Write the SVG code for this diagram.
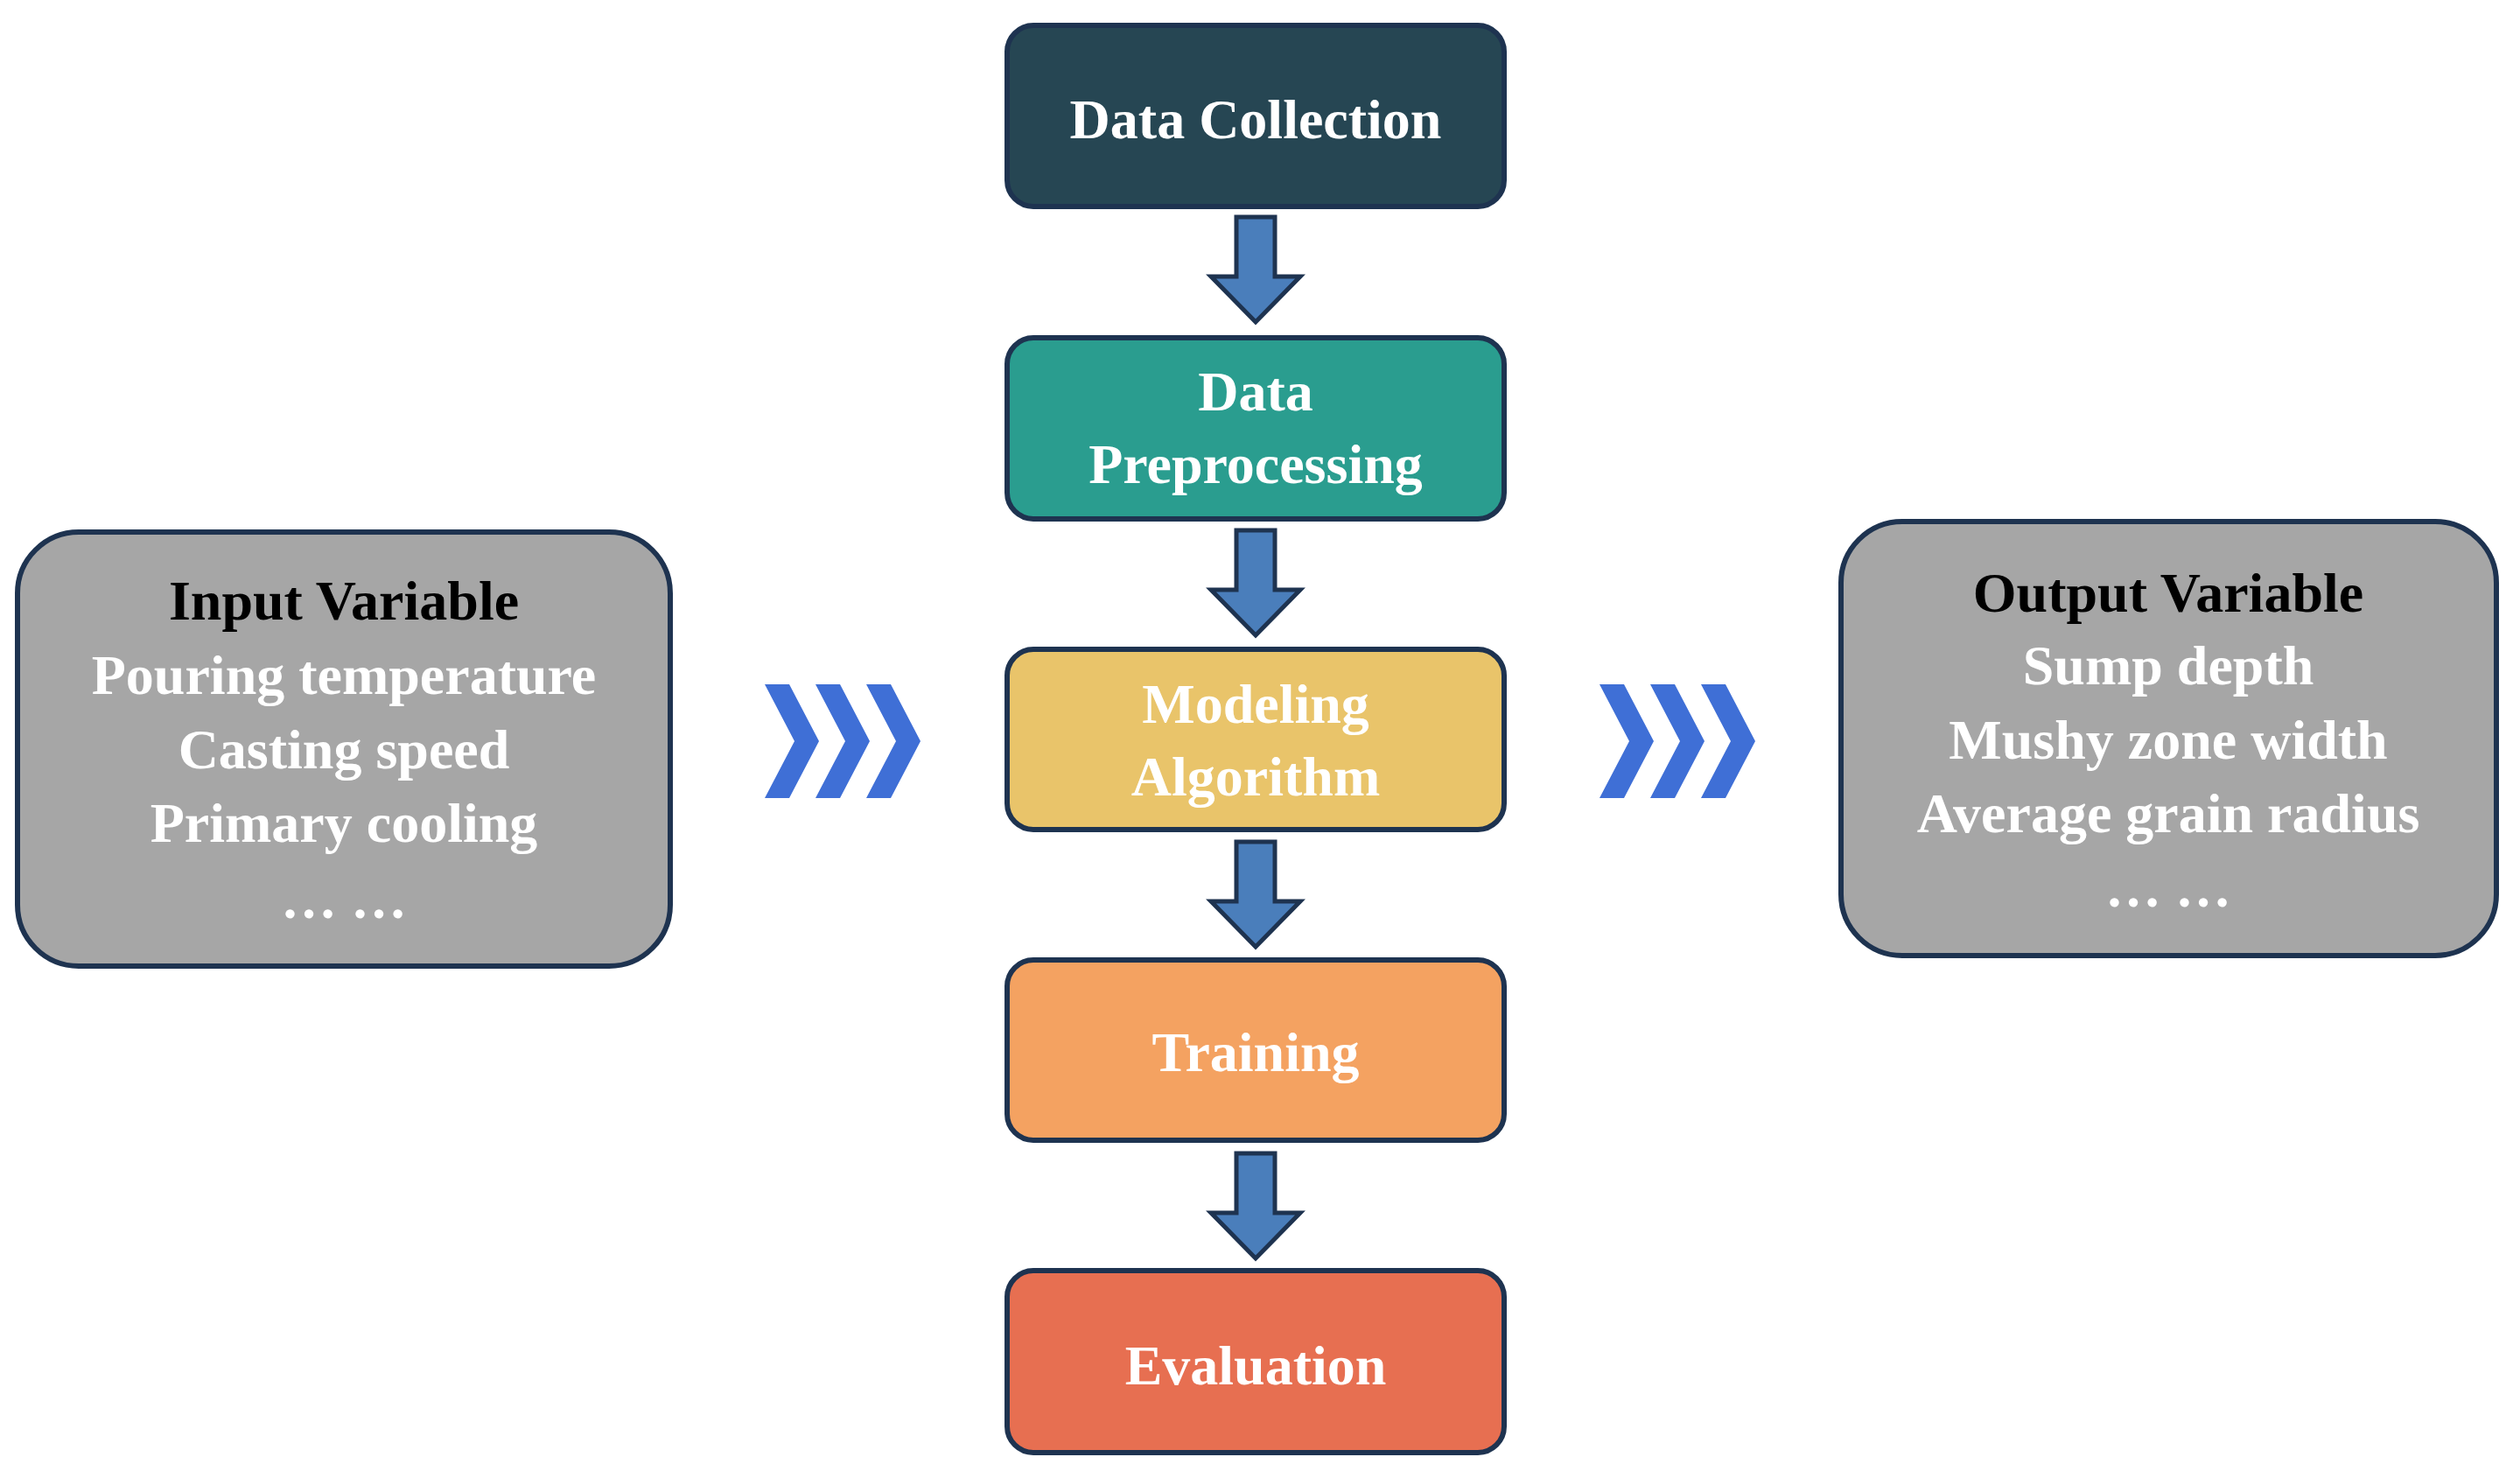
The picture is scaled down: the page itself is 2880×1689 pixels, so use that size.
<svg xmlns="http://www.w3.org/2000/svg" width="2880" height="1689" viewBox="0 0 2880 1689">
<style>
.box{stroke:#1e3350;stroke-width:6}
.t{font-family:"Liberation Serif","Times New Roman",serif;font-weight:bold;font-size:64px;fill:#fff;text-anchor:middle}
.h{fill:#000}
.arr{fill:#4a7ebb;stroke:#1e3350;stroke-width:5}
.chev{fill:#3f6fd6}
</style>
<defs>
<path id="dn" class="arr" d="M-22,0 H22 V68 H51 L0,120 L-51,68 H-22 Z"/>
<path id="ch" class="chev" d="M0,0 H28 L62,65 L28,130 H0 L34,65 Z"/>
</defs>
<rect width="2880" height="1689" fill="#fff"/>
<g id="input">
<rect class="box" x="20" y="608" width="746" height="496" rx="70" fill="#a6a6a6"/>
<text class="t h" x="393" y="708">Input Variable</text>
<text class="t" x="393" y="793">Pouring temperature</text>
<text class="t" x="393" y="878">Casting speed</text>
<text class="t" x="393" y="962">Primary cooling</text>
<text class="t" x="393" y="1049">… …</text>
</g>
<g id="output">
<rect class="box" x="2104" y="596" width="749" height="496" rx="70" fill="#a6a6a6"/>
<text class="t h" x="2478" y="699">Output Variable</text>
<text class="t" x="2478" y="782">Sump depth</text>
<text class="t" x="2478" y="867">Mushy zone width</text>
<text class="t" x="2478" y="951">Average grain radius</text>
<text class="t" x="2478" y="1036">… …</text>
</g>
<g id="n1"><rect class="box" x="1151" y="29" width="568" height="207" rx="30" fill="#264653"/><text class="t" x="1435" y="158">Data Collection</text></g>
<g id="n2"><rect class="box" x="1151" y="386" width="568" height="207" rx="30" fill="#2a9d8f"/><text class="t" x="1435" y="469">Data</text><text class="t" x="1435" y="552">Preprocessing</text></g>
<g id="n3"><rect class="box" x="1151" y="742" width="568" height="206" rx="30" fill="#e9c46a"/><text class="t" x="1435" y="826">Modeling</text><text class="t" x="1435" y="909">Algorithm</text></g>
<g id="n4"><rect class="box" x="1151" y="1097" width="568" height="206" rx="30" fill="#f4a261"/><text class="t" x="1435" y="1224">Training</text></g>
<g id="n5"><rect class="box" x="1151" y="1452" width="568" height="208" rx="30" fill="#e76f51"/><text class="t" x="1435" y="1582">Evaluation</text></g>
<g id="connectors">
<use href="#dn" x="1435" y="248"/>
<use href="#dn" x="1435" y="606"/>
<use href="#dn" x="1435" y="962"/>
<use href="#dn" x="1435" y="1318"/>
<use href="#ch" x="874" y="782"/><use href="#ch" x="932" y="782"/><use href="#ch" x="990" y="782"/>
<use href="#ch" x="1828" y="782"/><use href="#ch" x="1886" y="782"/><use href="#ch" x="1944" y="782"/>
</g>
</svg>
